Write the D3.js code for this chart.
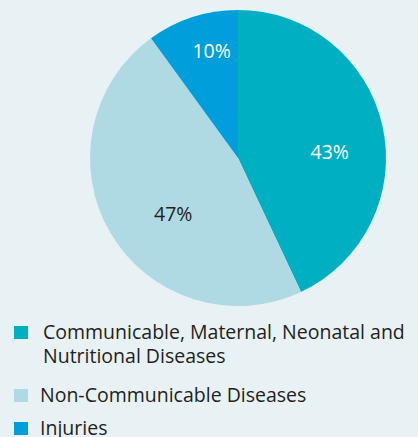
<!DOCTYPE html>
<html>
<head>
<meta charset="utf-8">
<script src="https://cdn.jsdelivr.net/npm/d3@7"></script>
<style>
  body { margin: 0; background: #e8f1f4; }
  svg { display: block; font-family: "Open Sans", sans-serif; }
</style>
</head>
<body>
<div id="chart"></div>
<script>
// share of deaths by cause group
const categories = ["Communicable, Maternal, Neonatal and Nutritional Diseases",
                    "Non-Communicable Diseases",
                    "Injuries"];
const values = [43, 47, 10];
const labels = ["43%", "47%", "10%"];
const colors = ["#00b0c2", "#b0dae3", "#009edb"];
const legendLines = [["Communicable, Maternal, Neonatal and", "Nutritional Diseases"],
                     ["Non-Communicable Diseases"],
                     ["Injuries"]];

const width = 418,
      height = 437,
      cx = 238, cy = 158,
      radius = 148;

// nudges from the arc centroid so labels sit where the original puts them
const labelNudge = [[-1, 15], [17, 8], [3, -16]];

let svg = d3.select("#chart")
    .append("svg")
    .attr("width", width)
    .attr("height", height);

svg.append("rect")
    .attr("width", width)
    .attr("height", height)
    .attr("fill", "#e8f1f4");

let data = categories.map((c, i) => ({cat: c, value: values[i], label: labels[i], color: colors[i]}));

const pie = d3.pie()
    .value(d => d.value)
    .sort(null);

const arc = d3.arc()
    .innerRadius(0)
    .outerRadius(radius);

const labelArc = d3.arc()
    .innerRadius(95)
    .outerRadius(95);

let g = svg.append("g")
    .attr("transform", `translate(${cx},${cy})`);

let arcs = pie(data);

g.selectAll("path")
    .data(arcs)
    .join("path")
    .attr("d", arc)
    .attr("fill", d => d.data.color);

g.selectAll("text")
    .data(arcs)
    .join("text")
    .attr("x", (d, i) => labelArc.centroid(d)[0] + labelNudge[i][0])
    .attr("y", (d, i) => labelArc.centroid(d)[1] + labelNudge[i][1])
    .attr("text-anchor", "middle")
    .attr("dy", "0.35em")
    .attr("font-size", 19.5)
    .attr("fill", (d, i) => i == 1 ? "#231f20" : "#ffffff")
    .text(d => d.data.label);

// legend
let legend = svg.append("g");
const rowY = [339, 402, 435];

legendLines.forEach((lines, i) => {
    legend.append("rect")
        .attr("x", 14)
        .attr("y", rowY[i] - 13)
        .attr("width", 14)
        .attr("height", 13)
        .attr("fill", colors[i]);
    lines.forEach((t, j) => {
        legend.append("text")
            .attr("x", i == 0 ? 43 : 40)
            .attr("y", rowY[i] + j * 24)
            .attr("font-size", 19.5)
            .attr("fill", "#231f20")
            .text(t);
    });
});
</script>
</body>
</html>
